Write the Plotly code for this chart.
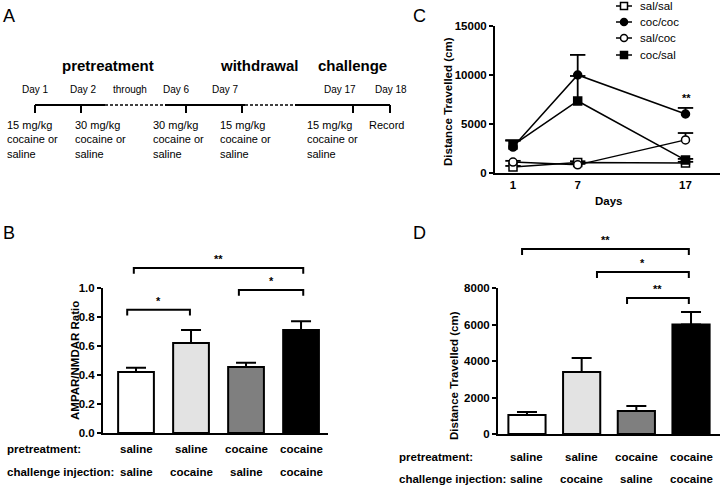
import plotly.graph_objects as go

W, H = 720, 486
FONT = "Arial, Liberation Sans, Helvetica, sans-serif"

# ---------------- data ----------------
# Panel A (timeline diagram)
phase_labels = ["pretreatment", "withdrawal", "challenge"]
day_labels = ["Day 1", "Day 2", "through", "Day 6", "Day 7", "Day 17", "Day 18"]
dose_labels = ["15 mg/kg<br>cocaine or<br>saline", "30 mg/kg<br>cocaine or<br>saline",
               "30 mg/kg<br>cocaine or<br>saline", "15 mg/kg<br>cocaine or<br>saline",
               "15 mg/kg<br>cocaine or<br>saline", "Record"]

# Panels B and D (shared groups)
pretreatment = ["saline", "saline", "cocaine", "cocaine"]
challenge = ["saline", "cocaine", "saline", "cocaine"]
bar_colors = ["#ffffff", "#e3e3e3", "#7f7f7f", "#000000"]

ratio_mean = [0.42, 0.62, 0.455, 0.71]
ratio_sem = [0.03, 0.09, 0.03, 0.06]

dist_mean = [1040, 3400, 1260, 6000]
dist_sem = [160, 760, 270, 680]

# Panel C
days = [1, 7, 17]
series_names = ["sal/sal", "coc/coc", "sal/coc", "coc/sal"]
sal_sal = [600, 1080, 1020]
coc_coc = [2650, 10000, 6020]
sal_coc = [1120, 830, 3380]
coc_sal = [2850, 7350, 1320]
sal_sal_err = [120, 120, 120]
coc_coc_err = [700, 2050, 620]
sal_coc_err = [120, 100, 700]
coc_sal_err = [450, 2550, 120]

# ---------------- helpers ----------------
def px(x):
    return x / W

def py(y):
    return 1 - y / H

def to_paper(v, dom, rng):
    return dom[0] + (v - rng[0]) / (rng[1] - rng[0]) * (dom[1] - dom[0])

# axis geometry (pixel based)
B_xdom = [px(103), px(328)]
B_ydom = [py(433), py(288)]
B_yrng = [0, 1.0]
C_xdom = [px(495), 1.0]
C_ydom = [py(173), py(26)]
C_yrng = [0, 15000]
D_xdom = [px(498), 1.0]
D_ydom = [py(434), py(288)]
D_yrng = [0, 8000]

fig = go.Figure()

cats = list(range(len(pretreatment)))

# Panel B bars
fig.add_trace(go.Bar(
    x=cats, y=ratio_mean, width=0.65,
    marker=dict(color=bar_colors, line=dict(color="black", width=2)),
    error_y=dict(type="data", array=ratio_sem, arrayminus=[0] * 4, symmetric=False,
                 color="black", thickness=2, width=10),
    xaxis="x", yaxis="y", showlegend=False, hoverinfo="skip"))

# Panel D bars
fig.add_trace(go.Bar(
    x=cats, y=dist_mean, width=0.68,
    marker=dict(color=bar_colors, line=dict(color="black", width=2)),
    error_y=dict(type="data", array=dist_sem, arrayminus=[0] * 4, symmetric=False,
                 color="black", thickness=2, width=10),
    xaxis="x3", yaxis="y3", showlegend=False, hoverinfo="skip"))

# Panel C error bars (upper only)
series_vals = [sal_sal, coc_coc, sal_coc, coc_sal]
series_errs = [sal_sal_err, coc_coc_err, sal_coc_err, coc_sal_err]
for vals, errs in zip(series_vals, series_errs):
    xs, ys, cx, cy = [], [], [], []
    for d, v, e in zip(days, vals, errs):
        xs += [d, d, None]
        ys += [v, v + e, None]
        cx.append(d)
        cy.append(v + e)
    fig.add_trace(go.Scatter(x=xs, y=ys, mode="lines", line=dict(color="black", width=1.8),
                             xaxis="x2", yaxis="y2", showlegend=False, hoverinfo="skip"))
    fig.add_trace(go.Scatter(x=cx, y=cy, mode="markers",
                             marker=dict(symbol="line-ew", size=11, line=dict(color="black", width=1.8)),
                             xaxis="x2", yaxis="y2", showlegend=False, hoverinfo="skip"))

symbols = ["square", "circle", "circle", "square"]
fills = ["white", "black", "white", "black"]
for name, vals, sym, fc in zip(series_names, series_vals, symbols, fills):
    fig.add_trace(go.Scatter(
        x=days, y=vals, mode="lines+markers", name=name,
        line=dict(color="black", width=1.5),
        marker=dict(symbol=sym, size=8, color=fc, line=dict(color="black", width=1.5)),
        xaxis="x2", yaxis="y2", hoverinfo="skip", showlegend=False))

# Manual legend for panel C (drawn on an invisible overlay axis in pixel units)
legend_rows = [6, 22, 38, 55]
for name, sym, fc, ry in zip(series_names, symbols, fills, legend_rows):
    fig.add_trace(go.Scatter(x=[616, 632], y=[ry, ry], mode="lines",
                             line=dict(color="black", width=1.5),
                             xaxis="x4", yaxis="y4", showlegend=False, hoverinfo="skip"))
    fig.add_trace(go.Scatter(x=[624], y=[ry], mode="markers",
                             marker=dict(symbol=sym, size=7, color=fc, line=dict(color="black", width=1.5)),
                             xaxis="x4", yaxis="y4", showlegend=False, hoverinfo="skip"))

axis_common = dict(showgrid=False, zeroline=False, showline=True, linewidth=2,
                   linecolor="black", ticks="outside", ticklen=4, tickwidth=2,
                   tickcolor="black",
                   tickfont=dict(family=FONT, size=11.5, color="black", weight="bold"))

layout_axes = dict(
    xaxis=dict(axis_common, domain=B_xdom, range=[-0.6, 3.49], showticklabels=False,
               ticks="", anchor="y"),
    yaxis=dict(axis_common, domain=B_ydom, range=B_yrng, tickvals=[0, 0.2, 0.4, 0.6, 0.8, 1.0],
               tickformat=".1f", anchor="x"),
    xaxis2=dict(axis_common, domain=C_xdom, range=[-0.67, 20.2], tickvals=days,
                ticks="", anchor="y2"),
    yaxis2=dict(axis_common, domain=C_ydom, range=C_yrng, tickvals=[0, 5000, 10000, 15000],
                tickformat="d", anchor="x2"),
    xaxis3=dict(axis_common, domain=D_xdom, range=[-0.53, 3.53], showticklabels=False,
                ticks="", anchor="y3"),
    yaxis3=dict(axis_common, domain=D_ydom, range=D_yrng, tickvals=[0, 2000, 4000, 6000, 8000],
                tickformat="d", anchor="x3"),
    xaxis4=dict(domain=[0, 1], range=[0, W], visible=False, anchor="y4", fixedrange=True),
    yaxis4=dict(domain=[0, 1], range=[H, 0], visible=False, anchor="x4", fixedrange=True),
)

ann = []
shapes = []

def text(x, y, s, size=11, bold=False, xanchor="center", yanchor="middle", angle=0,
         xref="paper", yref="paper"):
    ann.append(dict(x=x, y=y, xref=xref, yref=yref, text=s, showarrow=False,
                    xanchor=xanchor, yanchor=yanchor, textangle=angle,
                    font=dict(family=FONT, size=size, color="black",
                              weight="bold" if bold else "normal"),
                    align="left"))

# Panel letters
text(px(1), py(16), "A", size=18, xanchor="left")
text(px(411), py(16), "C", size=18, xanchor="left")
text(px(1), py(233), "B", size=18, xanchor="left")
text(px(411), py(233), "D", size=18, xanchor="left")

# legend labels
for name, ry in zip(series_names, legend_rows):
    text(px(638), py(ry), name, size=11.5, xanchor="left")

# ---- Panel A timeline ----
phase_x = [108, 259, 352]
for lab, x in zip(phase_labels, phase_x):
    text(px(x), py(65), lab, size=15, bold=True)
day_x = [35, 83, 130, 176, 225, 340, 391]
for lab, x in zip(day_labels, day_x):
    text(px(x), py(90), lab, size=10)
dose_x = [5, 73, 151, 218, 305, 367]
for lab, x in zip(dose_labels, dose_x):
    text(px(x), py(117), lab, size=11, xanchor="left", yanchor="top")

line_y = 105
solid_segs = [(35, 105), (165, 245), (295, 390)]
dash_segs = [(105, 165), (245, 295)]
for a, b in solid_segs:
    shapes.append(dict(type="line", xref="paper", yref="paper", x0=px(a), x1=px(b),
                       y0=py(line_y), y1=py(line_y), line=dict(color="black", width=2)))
for a, b in dash_segs:
    shapes.append(dict(type="line", xref="paper", yref="paper", x0=px(a), x1=px(b),
                       y0=py(line_y), y1=py(line_y), line=dict(color="black", width=1.5, dash="3px,2px")))
for t in [35, 81, 186, 242, 353, 390]:
    shapes.append(dict(type="line", xref="paper", yref="paper", x0=px(t), x1=px(t),
                       y0=py(line_y), y1=py(113), line=dict(color="black", width=2)))

# ---- axis titles ----
text(px(75), py(361), "AMPAR/NMDAR Ratio", size=11.5, bold=True, angle=-90)
text(px(448), py(102), "Distance Travelled (cm)", size=11.5, bold=True, angle=-90)
text(px(454), py(376), "Distance Travelled (cm)", size=11.5, bold=True, angle=-90)
text(px(609), py(201), "Days", size=11.5, bold=True)
text(px(686), py(98), "**", size=11, bold=True)

# ---- group labels B / D ----
text(px(5), py(449), "pretreatment:", size=11.5, bold=True, xanchor="left")
text(px(5), py(472), "challenge injection:", size=11.5, bold=True, xanchor="left")
for i, (p, c) in enumerate(zip(pretreatment, challenge)):
    text(i, py(449), p, size=11.5, bold=True, xref="x")
    text(i, py(472), c, size=11.5, bold=True, xref="x")

text(px(397), py(457), "pretreatment:", size=11.5, bold=True, xanchor="left")
text(px(397), py(479), "challenge injection:", size=11.5, bold=True, xanchor="left")
for i, (p, c) in enumerate(zip(pretreatment, challenge)):
    text(i, py(457), p, size=11.5, bold=True, xref="x3")
    text(i, py(479), c, size=11.5, bold=True, xref="x3")

# ---- significance brackets ----
B_brackets = [(-0.16, 0.98, 0.85, "*"), (1.87, 3.04, 0.986, "*"), (-0.04, 3.04, 1.138, "**")]
D_brackets = [(-0.09, 2.96, 10140, "**"), (1.28, 2.96, 8880, "*"), (1.83, 2.96, 7450, "**")]

def add_brackets(brs, xref, dom, rng, drop):
    for x0, x1, yv, lab in brs:
        yt = to_paper(yv, dom, rng)
        yb = to_paper(yv - drop, dom, rng)
        shapes.append(dict(type="path", xref=xref, yref="paper",
                           path=f"M{x0},{yb} L{x0},{yt} L{x1},{yt} L{x1},{yb}",
                           line=dict(color="black", width=2)))
        ann.append(dict(x=(x0 + x1) / 2, y=yt + 1 / H, xref=xref, yref="paper", text=lab,
                        showarrow=False, xanchor="center", yanchor="bottom",
                        font=dict(family=FONT, size=11, color="black", weight="bold")))

add_brackets(B_brackets, "x", B_ydom, B_yrng, 0.04)
add_brackets(D_brackets, "x3", D_ydom, D_yrng, 330)

fig.update_layout(
    width=W, height=H, margin=dict(l=0, r=0, t=0, b=0, autoexpand=False),
    paper_bgcolor="white", plot_bgcolor="rgba(0,0,0,0)",
    font=dict(family=FONT, size=11, color="black"),
    annotations=ann, shapes=shapes,
    showlegend=False,
    bargap=0.3,
    **layout_axes,
)

fig.write_html("out.html", config={"displayModeBar": False, "staticPlot": True},
               post_script="document.body.style.margin='0px';document.body.style.overflow='hidden';")
